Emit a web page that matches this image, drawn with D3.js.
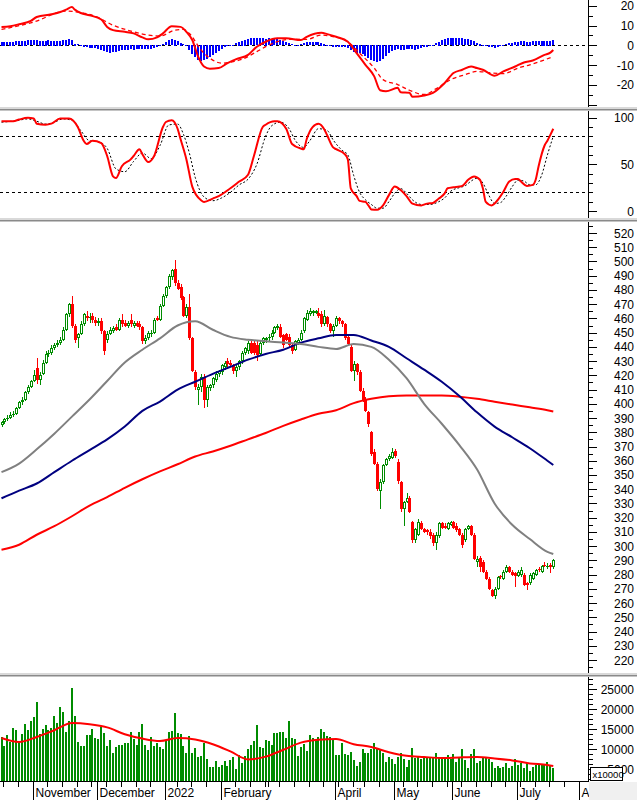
<!DOCTYPE html>
<html><head><meta charset="utf-8">
<script src="https://cdn.jsdelivr.net/npm/d3@7/dist/d3.min.js"></script>
<style>
html,body{margin:0;padding:0;background:#fff;}
svg{display:block;}
text{font-family:"Liberation Sans",Arial,sans-serif;font-size:12px;fill:#000;}
</style></head><body>
<svg id="chart" width="637" height="800"></svg>
<script>
// ---------------- DATA ----------------
const firstDay = "2021-10-15";
const holidays = ["2022-01-03","2022-01-31","2022-02-01","2022-02-02","2022-02-03","2022-02-04","2022-04-11","2022-05-02","2022-05-03"];

const opens = [385,387,389,390,392,393,397,401,403,408,
412,416,425,417,421,429,435,436,439,441,
443,445,452,463,470,455,446,449,456,462,
460,462,459,457,458,451,445,449,451,454,
452,459,457,455,459,455,457,456,454,444,
446,449,450,460,459,469,476,482,489,495,
485,482,475,462,468,446,422,410,412,419,
403,411,413,417,421,422,426,430,429,427,
423,426,430,436,437,443,443,441,435,443,
445,446,447,450,453,454,448,449,447,441,
438,443,445,451,459,463,464,464,464,463,
456,461,456,451,455,460,458,456,447,440,
423,428,422,409,403,394,380,366,358,339,
345,357,361,362,367,359,345,326,331,334,
317,304,308,316,312,311,310,308,302,307,
316,314,312,315,317,314,312,308,304,312,
314,308,289,292,289,282,277,269,265,270,
279,277,282,285,282,281,279,280,280,274,
274,277,280,284,282,287,285,287,285];
const highs = [388,390,392,394,395,398,402,405,409,413,
417,424,432,422,431,437,438,441,443,445,
447,454,464,471,476,456,450,458,464,465,
464,464,461,460,460,452,451,454,455,456,
460,463,459,458,463,458,458,458,455,448,
451,452,460,462,470,477,483,491,495,501,
487,484,476,470,477,447,424,414,421,421,
413,414,419,423,424,428,430,432,431,428,
428,431,437,440,444,445,445,445,445,447,
447,449,452,455,456,456,449,450,449,442,
445,446,452,461,466,467,466,466,467,465,
466,462,457,456,462,461,459,457,448,441,
430,429,424,411,405,395,381,368,359,347,
358,362,365,369,368,361,346,332,337,335,
318,313,319,318,313,312,312,309,310,317,
317,316,317,318,318,316,313,309,313,315,
315,309,293,293,290,283,278,270,271,279,
280,283,287,286,283,282,283,285,281,275,
281,282,284,285,287,289,288,288,291];
const lows = [384,386,388,389,391,392,396,399,402,407,
411,415,414,413,420,428,433,434,438,440,
441,444,451,461,453,443,439,448,455,458,
457,457,455,455,449,434,443,448,450,451,
451,454,454,453,454,453,454,452,442,442,
445,447,449,458,458,468,474,481,487,483,
480,473,461,460,445,422,410,399,408,397,
398,409,411,415,419,420,424,426,426,421,
419,424,428,434,435,435,434,430,434,441,
443,444,445,449,452,446,439,444,440,435,
437,441,444,450,458,462,462,463,460,454,
455,454,450,447,454,456,454,445,441,422,
416,420,408,401,394,384,363,357,339,326,
344,356,360,361,362,344,324,314,330,323,
302,302,307,311,309,308,305,300,297,306,
312,312,311,314,312,310,307,299,303,311,
307,290,285,282,281,276,269,264,263,269,
277,276,281,281,279,271,278,278,272,269,
273,276,279,282,281,285,284,281,284];
const closes = [387,389,390,392,393,397,401,403,408,412,
416,420,417,420,429,435,436,439,441,443,
445,452,463,470,455,445,449,456,463,460,
461,459,457,458,451,437,449,452,453,452,
459,456,455,457,456,457,455,454,444,446,
450,450,459,459,469,476,482,490,494,485,
481,474,462,468,446,423,412,412,419,403,
412,413,418,421,423,427,429,428,427,423,
426,430,436,439,443,436,436,434,443,446,
446,447,450,454,455,447,441,445,441,437,
444,445,450,460,464,465,465,465,462,456,
462,456,451,455,460,458,456,446,442,423,
428,422,409,403,395,386,365,358,340,345,
357,361,363,366,363,346,326,331,334,324,
304,312,317,312,310,310,307,302,308,316,
313,313,316,317,313,311,308,301,312,314,
308,291,291,285,282,277,270,265,270,278,
278,282,285,282,280,279,282,283,273,273,
280,281,283,283,286,286,286,285,290];
const volumes = [13100,10800,13500,11800,15200,14800,12100,13800,16300,14800,
17000,17900,21800,13800,14900,16000,14800,15200,18300,16600,
20600,19300,14300,17000,25300,18300,11800,10800,10800,13500,
13500,15000,12700,12400,15400,13900,10800,12300,9100,10400,
11000,11000,11400,11600,14300,12400,11000,14300,16300,11000,
9800,12900,10800,11600,10600,10000,12300,14300,14500,18900,
13900,13800,10800,9100,13300,9100,10200,8100,8300,11400,
7400,5600,5400,7000,5600,6000,7000,5800,7300,7900,
5100,8500,6600,8300,10000,11000,12100,16000,10600,10200,
12300,12100,11000,13900,14100,14300,14200,12700,17100,12700,
12400,8300,10600,11300,9500,13500,12700,12400,13100,15000,
14300,13300,12900,12400,8500,8500,11600,8800,8500,9300,
7300,5800,6800,10000,9100,9100,9900,11400,9900,9800,
8900,6800,8100,7400,6300,7900,9100,7400,5400,7300,
10200,7700,7900,7400,8100,7700,7900,7800,9100,8100,
7700,8100,8500,7400,8800,6800,7700,9900,7300,5200,
8800,9900,6400,7000,8100,7900,7400,6800,5200,5800,
5200,5400,6400,5200,5800,7400,6000,6400,5200,6400,
4600,5400,6000,6000,6000,6300,6800,6000,5200];

// moving averages: [bar index, value]
const ma20 = [[0,352],[6,358],[12,368],[18,379],[24,391],[30,403],[36,416],[42,429],[48,438],[54,446],[60,455],[66,458],[72,452],[78,447],[84,445],[90,444],[96,443],[102,442],[108,440],[114,438.5],[120,442],[126,440],[132,431],[138,418],[144,400],[150,386],[156,371],[162,354],[168,330],[174,315],[180,305],[186,296],[188,294.5]];
const ma50 = [[0,333.6],[6,339],[12,344],[18,352],[24,360],[30,367.5],[36,375],[42,384],[48,395],[54,401.6],[60,410],[66,415.5],[72,421],[78,426],[84,431],[90,435],[96,438],[102,443],[108,446],[114,448.3],[120,448.4],[126,444.5],[132,440],[138,432],[144,424],[150,415.5],[156,405.5],[162,394],[168,384],[174,376.5],[180,368.8],[186,360],[188,357]];
const ma200 = [[0,297.4],[6,301],[12,308],[18,314],[24,321],[30,328.5],[36,334.5],[42,341],[48,347],[54,352.5],[60,357.5],[66,363],[72,366.5],[78,370.5],[84,375],[90,379.5],[96,384.5],[102,389],[108,393],[114,395.5],[120,400.5],[126,403.5],[132,405.3],[138,405.8],[144,405.8],[150,405.8],[156,405],[162,403.5],[168,401.5],[174,399.5],[180,397.5],[186,395.5],[188,394.6]];
const volMA = [[0,12750],[6,11750],[12,13000],[18,14700],[24,16500],[30,16200],[36,15400],[42,13700],[48,12600],[54,12000],[60,12750],[66,12400],[72,11200],[78,9400],[84,7400],[90,8100],[96,9800],[102,11600],[108,12300],[114,12500],[120,11200],[126,10500],[132,9200],[138,8300],[144,8000],[150,7750],[156,7900],[162,8000],[168,7650],[174,7150],[180,6400],[186,6000],[188,5750]];

// MACD
const macdLine = [[0,9.3],[3,9.65],[6,10.65],[10,12.3],[12,14.3],[17,15.65],[20,16.8],[22,18],[24,19.3],[25,18],[27,16.3],[30,15.15],[34,13],[36,9.3],[38,7.65],[42,6.8],[45,6],[48,4],[50,3],[53,4],[55,6],[58,9.65],[61,9.3],[63,6.8],[65,2.65],[67,-5.7],[69,-10.7],[71,-11.85],[74,-11.5],[77,-9],[80,-7],[84,-4.85],[87,-0.7],[90,1.8],[94,3.5],[97,3.5],[102,2.65],[104,4.3],[109,6.3],[111,5.65],[114,4.3],[118,1.8],[121,-4],[124,-9.85],[127,-15.7],[129,-22.7],[131,-23.2],[135,-21.5],[136,-23.7],[139,-24],[140,-26],[144,-25.35],[147,-24],[151,-19],[154,-14],[157,-12.35],[160,-10.7],[162,-11.5],[164,-12.35],[168,-15.35],[171,-13.2],[175,-10.7],[178,-8.7],[181,-7.7],[185,-4.85],[187,-3.7],[188,-2.35]];
const signalLine = [[0,8],[11,11.8],[22,17.3],[26,16.8],[32,14.65],[38,10.15],[43,7.65],[50,5.15],[54,4.65],[59,7.65],[62,8],[64,6],[68,-2.35],[71,-6.5],[75,-9],[79,-8.2],[82,-7],[87,-3.2],[90,-0.7],[94,1.8],[98,3],[104,3],[109,5.15],[112,4.65],[118,1.8],[122,-4],[127,-11.5],[130,-17.35],[135,-19.85],[139,-22.7],[144,-24.85],[148,-22],[153,-17.35],[158,-14.85],[162,-13.2],[167,-14],[171,-14.35],[176,-11.5],[180,-9.85],[185,-7.35],[188,-5.7]];
const macdHist = [1.8,1.8,1.7,1.8,1.9,2.0,2.1,
2.3,2.4,2.5,2.5,2.5,2.5,
2.4,2.3,2.4,2.5,2.4,2.3,2.3,2.4,2.6,2.8,
3.0,2.6,0.8,0.5,
-0.7,-1.0,-1.2,-1.4,-1.5,-1.5,-1.8,
-2.5,-3.2,-3.7,-3.8,-3.6,-3.3,-3.0,
-2.6,-2.4,-2.3,-2.2,-2.3,-2.2,-2.1,
-2.0,-2.1,-2.0,-1.8,-1.3,-0.8,
-0.3,0.6,1.5,2.6,3.0,2.8,
2.2,1.3,0.5,-0.5,-2.3,
-4.5,-6.0,-7.6,-8.0,-7.8,-7.0,-6.2,-4.8,
-3.8,-2.8,-1.8,-0.9,-0.5,-0.2,0.4,
1.2,1.8,2.3,2.8,
3.2,3.5,3.6,3.5,3.5,3.6,3.4,3.5,3.3,3.2,3.0,
2.6,2.2,1.6,1.0,0.5,0.2,0.3,0.6,
1.0,1.5,1.6,1.5,1.7,1.6,
1.3,0.9,0.4,
-0.4,-0.8,-1.0,-0.9,-1.1,-1.0,-1.5,
-2.6,-3.5,-4.0,-4.2,-4.5,
-5.5,-6.5,-7.5,-8.2,-8.5,-8.3,-7.0,
-5.5,-4.0,-3.0,-2.5,
-2.0,-2.3,-2.5,-2.2,-1.8,-2.0,-2.3,-2.0,-1.5,-1.2,-0.8,
-0.3,0.2,
1.0,1.8,2.6,3.2,3.6,3.7,3.8,3.7,3.6,3.5,3.2,3.0,2.6,2.0,
1.2,0.8,0.4,0.1,
-0.8,-1.2,-1.3,-1.1,-0.6,-0.2,
0.5,1.0,1.4,1.6,1.8,2.0,2.0,1.9,1.8,2.0,2.2,2.2,2.3,2.4,2.4,2.4,2.6];

// Stochastic
const stochK = [[0,96],[4,96],[6,97.8],[9,99.6],[11,98.9],[12,93.4],[15,92.3],[17,93.4],[20,98.9],[23,98.9],[26,89.8],[28,75.2],[29,71.6],[31,75.2],[34,72.7],[36,58.8],[38,37],[39,35.2],[41,47.9],[44,55.2],[45,58.8],[47,66.1],[48,60.7],[50,52.3],[52,58.8],[55,89.8],[56,95.2],[58,97.1],[60,88],[61,77],[63,55.2],[65,26.1],[68,11.5],[69,9.7],[72,13.3],[74,15.9],[78,24.3],[81,31.5],[84,38.8],[86,58.8],[89,89.8],[90,92.3],[93,96],[94,96],[97,88],[99,71.6],[102,66.8],[103,66.1],[104,77],[106,89.8],[108,93.4],[110,87.2],[111,80.7],[113,68],[114,66.1],[117,60.7],[118,55.2],[119,24.3],[121,15.9],[122,10.8],[124,9.7],[125,6],[126,1.7],[128,1.3],[130,6],[132,17],[134,26.1],[136,22.4],[138,15.9],[140,7.9],[143,6],[145,7.9],[147,8.6],[149,13.3],[151,18.8],[152,24.3],[154,25.4],[156,26.1],[157,26.8],[159,33.4],[161,37],[163,33.4],[164,24.3],[165,9.7],[167,6],[169,11.5],[171,20.6],[173,31.5],[175,34.1],[176,34.1],[177,31.5],[179,26.8],[181,27.9],[182,33.4],[183,47.9],[185,69.8],[186,75.2],[187,81.4],[188,88]];
const stochD = [[0,95],[5,96.5],[9,98.5],[12,96],[15,93],[18,95],[21,98.5],[24,97],[27,86],[30,75],[33,74],[36,67],[39,45],[42,42],[45,53],[48,62],[51,56],[54,70],[57,92],[60,93],[62,82],[64,62],[66,36],[69,15],[72,11],[75,14],[78,20],[81,28],[84,34],[87,50],[90,80],[92,91],[95,95],[98,88],[100,76],[103,68],[105,75],[108,88],[111,86],[113,76],[116,65],[118,60],[120,38],[122,20],[124,12],[126,7],[128,3],[130,3],[132,10],[134,19],[136,24],[138,19],[140,12],[143,7],[146,7],[149,10],[151,14],[153,21],[156,25],[158,27],[160,32],[162,35],[164,30],[166,17],[168,8],[170,9],[172,16],[174,26],[176,33],[178,32],[180,28],[182,28],[184,38],[186,60],[188,80]];

// axis tick labels
const priceTickLabels = [220,230,240,250,260,270,280,290,300,310,320,330,340,350,360,370,380,390,400,410,420,430,440,450,460,470,480,490,500,510,520];
const macdTickLabels = [-20,-10,0,10,20];
const stochTickLabels = [0,50,100];
const stochLevels = [20,80];
const volTickLabels = [5000,10000,15000,20000,25000];
const monthKeys = ["2021-11","2021-12","2022-01","2022-02","2022-04","2022-05","2022-06","2022-07","2022-08"];
const monthNames = ["November","December","2022","February","April","May","June","July","August"];
const volUnit = "x10000";

// ---------------- DRAWING ----------------
const svg = d3.select("#chart");
const AX = 588;
const GREEN = "#008c00", RED = "#ff0000", NAVY = "#000080", GRAY = "#808080", BLUE = "#0000ff";

// trading calendar
const hol = new Set(holidays);
const dates = [];
{
  const d = new Date(firstDay + "T00:00:00Z");
  while (dates.length < 205) {
    const wd = d.getUTCDay(), s = d.toISOString().slice(0,10);
    if (wd !== 0 && wd !== 6 && !hol.has(s)) dates.push(new Date(d));
    d.setUTCDate(d.getUTCDate() + 1);
  }
}

const x = d3.scaleLinear().domain([0, 188]).range([1.5, 1.5 + 188 * 2.935]);
const yMacd = d3.scaleLinear().domain([-20, 20]).range([84.9, 5.7]);
const yStoch = d3.scaleLinear().domain([0, 100]).range([211, 117.5]);
const yPrice = d3.scaleLinear().domain([220, 520]).range([660, 233]);
const yVol = d3.scaleLinear().domain([0, 25000]).range([789, 689]);

const panels = [
  {id:"pm", top:0, bottom:107},
  {id:"ps", top:111, bottom:218},
  {id:"pp", top:222, bottom:673},
  {id:"pv", top:677, bottom:781}
];
const defs = svg.append("defs");
panels.forEach(p => {
  defs.append("clipPath").attr("id", p.id).append("rect")
    .attr("x", 0).attr("y", p.top).attr("width", AX).attr("height", p.bottom - p.top);
});
const G = id => svg.append("g").attr("clip-path", `url(#${id})`);

const idx = d3.range(closes.length);
const cx = i => Math.round(x(i));

// ---- MACD panel
const gM = G("pm");
gM.append("line").attr("x1", 0).attr("x2", AX).attr("y1", Math.round(yMacd(0)) + 0.5).attr("y2", Math.round(yMacd(0)) + 0.5)
  .attr("stroke", "#000").attr("stroke-dasharray", "3,3");
gM.append("g").attr("shape-rendering", "crispEdges").selectAll("rect").data(idx).join("rect")
  .attr("x", i => cx(i) - 1).attr("width", 2)
  .attr("y", i => Math.round(Math.min(yMacd(0), yMacd(macdHist[i]))))
  .attr("height", i => Math.max(1, Math.round(Math.abs(yMacd(macdHist[i]) - yMacd(0)))))
  .attr("fill", BLUE);
const lineM = d3.line().x(d => x(d[0])).y(d => yMacd(d[1])).curve(d3.curveMonotoneX);
gM.append("path").attr("d", lineM(signalLine)).attr("fill", "none").attr("stroke", RED).attr("stroke-width", 1.3).attr("stroke-dasharray", "4,3");
gM.append("path").attr("d", lineM(macdLine)).attr("fill", "none").attr("stroke", RED).attr("stroke-width", 2);

// ---- Stochastic panel
const gS = G("ps");
stochLevels.forEach(v => {
  gS.append("line").attr("x1", 0).attr("x2", AX).attr("y1", Math.round(yStoch(v)) + 0.5).attr("y2", Math.round(yStoch(v)) + 0.5)
    .attr("stroke", "#000").attr("stroke-dasharray", "3,3");
});
const lineS = d3.line().x(d => x(d[0])).y(d => yStoch(d[1])).curve(d3.curveMonotoneX);
gS.append("path").attr("d", lineS(stochD)).attr("fill", "none").attr("stroke", "#000").attr("stroke-width", 1).attr("stroke-dasharray", "2,2");
gS.append("path").attr("d", lineS(stochK)).attr("fill", "none").attr("stroke", RED).attr("stroke-width", 2);

// ---- Price panel
const gP = G("pp");
const lineP = d3.line().x(d => x(d[0])).y(d => yPrice(d[1])).curve(d3.curveMonotoneX);
const gC = gP.append("g").attr("shape-rendering", "crispEdges");
const candles = idx.map(i => ({i, o: opens[i], h: highs[i], l: lows[i], c: closes[i]}));
candles.forEach(d => {
  const c = cx(d.i);
  const up = d.c >= d.o;
  const col = up ? GREEN : RED;
  const yT = Math.round(yPrice(Math.max(d.o, d.c)));
  const yB = Math.round(yPrice(Math.min(d.o, d.c)));
  const yH = Math.round(yPrice(d.h)), yL = Math.round(yPrice(d.l));
  gC.append("rect").attr("x", c).attr("y", yH).attr("width", 1).attr("height", Math.max(0, yT - yH)).attr("fill", col);
  gC.append("rect").attr("x", c).attr("y", yB).attr("width", 1).attr("height", Math.max(0, yL - yB)).attr("fill", col);
  if (up) {
    const h = Math.max(yB - yT, 1);
    gC.append("rect").attr("x", c - 1).attr("y", yT).attr("width", 3).attr("height", h).attr("fill", col);
    if (h > 2) gC.append("rect").attr("x", c).attr("y", yT + 1).attr("width", 1).attr("height", h - 2).attr("fill", "#fff");
  } else {
    gC.append("rect").attr("x", c - 1).attr("y", yT).attr("width", 3).attr("height", Math.max(yB - yT, 1)).attr("fill", col);
  }
});
gP.append("path").attr("d", lineP(ma200)).attr("fill", "none").attr("stroke", RED).attr("stroke-width", 2);
gP.append("path").attr("d", lineP(ma50)).attr("fill", "none").attr("stroke", NAVY).attr("stroke-width", 2);
gP.append("path").attr("d", lineP(ma20)).attr("fill", "none").attr("stroke", GRAY).attr("stroke-width", 2);

// ---- Volume panel
const gV = G("pv");
gV.append("g").attr("shape-rendering", "crispEdges").selectAll("rect").data(idx).join("rect")
  .attr("x", i => cx(i) - 1).attr("width", 2)
  .attr("y", i => Math.round(yVol(volumes[i]))).attr("height", i => 781 - Math.round(yVol(volumes[i])))
  .attr("fill", GREEN);
const lineV = d3.line().x(d => x(d[0])).y(d => yVol(d[1])).curve(d3.curveMonotoneX);
gV.append("path").attr("d", lineV(volMA)).attr("fill", "none").attr("stroke", RED).attr("stroke-width", 2);

// ---- separators
[[107, 218, 673]].flat().forEach(b => {
  svg.append("rect").attr("x", 0).attr("y", b).attr("width", 637).attr("height", 2).attr("fill", "#d9d9d9");
  svg.append("rect").attr("x", 0).attr("y", b + 2).attr("width", 637).attr("height", 1.5).attr("fill", "#8a8a8a");
});

// ---- right axes
const gA = svg.append("g").attr("shape-rendering", "crispEdges");
function axis(scale, top, bottom, minorStep, majorStep, labels, lo, hi) {
  gA.append("line").attr("x1", AX + 0.5).attr("x2", AX + 0.5).attr("y1", top).attr("y2", bottom).attr("stroke", "#000");
  d3.range(lo, hi + minorStep / 2, minorStep).forEach(v => {
    const yy = Math.round(scale(v)) + 0.5;
    if (yy < top || yy > bottom) return;
    const major = Math.abs(v / majorStep - Math.round(v / majorStep)) < 1e-6;
    gA.append("line").attr("x1", AX).attr("x2", AX + (major ? 9 : 5)).attr("y1", yy).attr("y2", yy).attr("stroke", "#000");
  });
  labels.forEach(v => {
    svg.append("text").attr("x", 634).attr("y", scale(v) + 4.5).attr("text-anchor", "end").text(String(v));
  });
}
axis(yMacd, 0, 107, 5, 10, macdTickLabels, -30, 25);
axis(yStoch, 111, 218, 10, 50, stochTickLabels, 0, 100);
axis(yPrice, 222, 673, 5, 10, priceTickLabels, 210, 530);
axis(yVol, 677, 781, 1250, 5000, volTickLabels, 0, 30000);

// ---- date axis
gA.append("line").attr("x1", 0).attr("x2", AX + 1).attr("y1", 781.5).attr("y2", 781.5).attr("stroke", "#000");
const weekNo = d => Math.floor((d.getTime() / 86400000 + 3) / 7);
const monthKey = d => d.toISOString().slice(0, 7);
const gD = svg.append("g");
dates.forEach((d, i) => {
  if (i === 0) return;
  const tx = Math.round(x(i) - 1) + 0.5;
  if (tx > AX) return;
  const newMonth = monthKey(d) !== monthKey(dates[i - 1]);
  const newWeek = weekNo(d) !== weekNo(dates[i - 1]);
  const mi = monthKeys.indexOf(monthKey(d));
  if (newMonth && mi >= 0) {
    gA.append("line").attr("x1", tx).attr("x2", tx).attr("y1", 781).attr("y2", 800).attr("stroke", "#000");
    gD.append("text").attr("x", tx + 2).attr("y", 797).text(monthNames[mi]);
  } else if (newWeek || newMonth) {
    gA.append("line").attr("x1", tx).attr("x2", tx).attr("y1", 781).attr("y2", 787).attr("stroke", "#000");
  }
});
// grey corner
svg.append("rect").attr("x", AX + 1).attr("y", 782).attr("width", 637 - AX - 1).attr("height", 18).attr("fill", "#f0f0f0");
// unit box
svg.append("rect").attr("x", 590.5).attr("y", 767.5).attr("width", 32).attr("height", 13).attr("fill", "#fff").attr("stroke", "#000");
svg.append("text").attr("x", 592.5).attr("y", 778).style("font-size", "9.5px").text(volUnit);
</script>
</body></html>
